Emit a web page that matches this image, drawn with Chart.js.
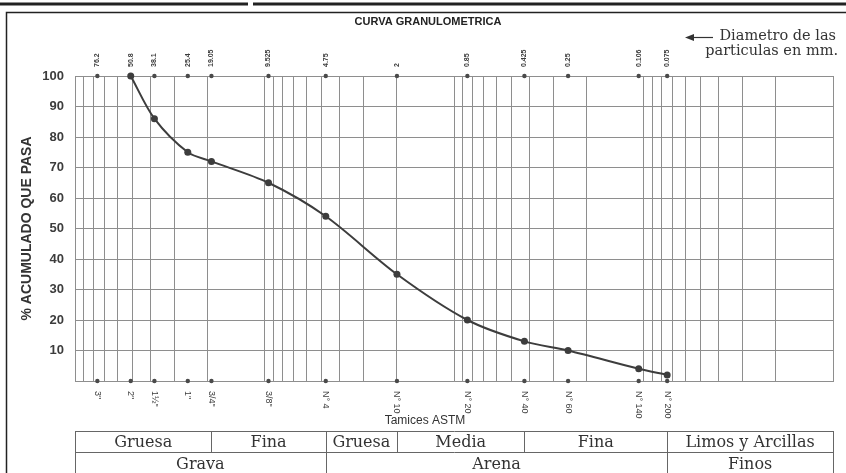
<!DOCTYPE html>
<html>
<head>
<meta charset="utf-8">
<script src="https://cdn.jsdelivr.net/npm/chart.js@4.4.1/dist/chart.umd.min.js"></script>
<style>
  html, body { margin: 0; padding: 0; background: #fff; }
  #wrap { width: 846px; height: 473px; position: relative; overflow: hidden; }
</style>
</head>
<body>
<div id="wrap"><canvas id="c" width="846" height="473"></canvas></div>
<script>
// Sieve openings (mm) with their ASTM designations
const sieveSizes = [76.2, 50.8, 38.1, 25.4, 19.05, 9.525, 4.75, 2, 0.85, 0.425, 0.25, 0.106, 0.075];
const sieveMmLabels = ['76.2', '50.8', '38.1', '25.4', '19.05', '9.525', '4.75', '2', '0.85', '0.425', '0.25', '0.106', '0.075'];
const sieveAstmLabels = ['3"', '2"', '1½"', '1"', '3/4"', '3/8"', 'N° 4', 'N° 10', 'N° 20', 'N° 40', 'N° 60', 'N° 140', 'N° 200'];

// Grading of the sample: cumulative percent passing each sieve
const curveSizes = [50.8, 38.1, 25.4, 19.05, 9.525, 4.75, 2, 0.85, 0.425, 0.25, 0.106, 0.075];
const percentPassing = [100, 86, 75, 72, 65, 54, 35, 20, 13, 10, 4, 2];

// Axis ranges
const diameterRange = [0.01, 100];
const percentRange = [0, 100];
const percentStep = 10;

// Soil classification bands (limits in mm)
const subgroupNames = ['Gruesa', 'Fina', 'Gruesa', 'Media', 'Fina', 'Limos y Arcillas'];
const subgroupLimits = [100, 19.05, 4.75, 2, 0.425, 0.075, 0.01];
const groupNames = ['Grava', 'Arena', 'Finos'];
const groupLimits = [100, 4.75, 0.075, 0.01];

// Log-paper grid: 1..9 x 10^k across the diameter range
const logGrid = [];
for (let e = Math.log10(diameterRange[0]); e < Math.log10(diameterRange[1]); e++) {
  for (let m = 1; m <= 9; m++) logGrid.push(+(m * Math.pow(10, e)).toPrecision(3));
}
logGrid.push(diameterRange[1]);

const INK = '#3c3c3c';
const GRID = '#8e8e8e';

const decorations = {
  id: 'decorations',
  afterDraw(chart) {
    const ctx = chart.ctx;
    const xs = chart.scales.x;
    const area = chart.chartArea;
    ctx.save();

    // Title
    ctx.fillStyle = '#222';
    ctx.font = 'bold 11px "Liberation Sans", Arial, sans-serif';
    ctx.textAlign = 'center';
    ctx.textBaseline = 'middle';
    ctx.fillText('CURVA GRANULOMETRICA', 428, 22);

    // Note on the diameter row
    ctx.font = '14.5px "DejaVu Serif", serif';
    ctx.textAlign = 'right';
    ctx.fillStyle = '#333';
    ctx.fillText('Diametro de las', 836, 36);
    ctx.fillText('particulas en mm.', 838, 51);
    ctx.strokeStyle = '#333';
    ctx.lineWidth = 1.2;
    ctx.beginPath();
    ctx.moveTo(692, 37.5);
    ctx.lineTo(713, 37.5);
    ctx.stroke();
    ctx.beginPath();
    ctx.moveTo(685, 37.5);
    ctx.lineTo(694, 34);
    ctx.lineTo(694, 41);
    ctx.closePath();
    ctx.fillStyle = '#333';
    ctx.fill();

    // Sieve openings above the grid
    ctx.fillStyle = INK;
    ctx.font = 'bold 7px "Liberation Sans", Arial, sans-serif';
    ctx.textAlign = 'left';
    ctx.textBaseline = 'middle';
    sieveSizes.forEach((s, i) => {
      const x = xs.getPixelForValue(s);
      ctx.save();
      ctx.translate(x, area.top - 9);
      ctx.rotate(-Math.PI / 2);
      ctx.fillText(sieveMmLabels[i], 0, 0);
      ctx.restore();
    });

    // ASTM designations below the grid
    ctx.font = '9px "Liberation Sans", Arial, sans-serif';
    sieveSizes.forEach((s, i) => {
      const x = xs.getPixelForValue(s);
      ctx.save();
      ctx.translate(x, area.bottom + 10);
      ctx.rotate(Math.PI / 2);
      ctx.fillText(sieveAstmLabels[i], 0, 0);
      ctx.restore();
    });

    ctx.fillStyle = '#333';
    ctx.font = '12px "Liberation Sans Narrow", "Liberation Sans", Arial, sans-serif';
    ctx.textAlign = 'center';
    ctx.fillText('Tamices ASTM', 425, 421);

    // Classification table
    const rowTop = 431, rowH = 21;
    ctx.strokeStyle = '#666';
    ctx.lineWidth = 1;
    const xL = Math.round(xs.getPixelForValue(subgroupLimits[0])) + 0.5;
    const xR = Math.round(xs.getPixelForValue(subgroupLimits[subgroupLimits.length - 1])) + 0.5;
    ctx.beginPath();
    [rowTop, rowTop + rowH, rowTop + 2 * rowH].forEach(y => {
      ctx.moveTo(xL, y + 0.5);
      ctx.lineTo(xR, y + 0.5);
    });
    subgroupLimits.forEach(v => {
      const x = Math.round(xs.getPixelForValue(v)) + 0.5;
      ctx.moveTo(x, rowTop);
      ctx.lineTo(x, rowTop + rowH);
    });
    groupLimits.forEach(v => {
      const x = Math.round(xs.getPixelForValue(v)) + 0.5;
      ctx.moveTo(x, rowTop + rowH);
      ctx.lineTo(x, rowTop + 2 * rowH);
    });
    ctx.stroke();

    ctx.fillStyle = '#333';
    ctx.font = '16px "DejaVu Serif", serif';
    ctx.textAlign = 'center';
    ctx.textBaseline = 'middle';
    subgroupNames.forEach((t, i) => {
      const a = xs.getPixelForValue(subgroupLimits[i]);
      const b = xs.getPixelForValue(subgroupLimits[i + 1]);
      ctx.fillText(t, (a + b) / 2, rowTop + rowH / 2 + 1);
    });
    groupNames.forEach((t, i) => {
      const a = xs.getPixelForValue(groupLimits[i]);
      const b = xs.getPixelForValue(groupLimits[i + 1]);
      ctx.fillText(t, (a + b) / 2, rowTop + rowH + rowH / 2 + 2);
    });

    // Sheet frame
    ctx.strokeStyle = '#222';
    ctx.lineWidth = 1.5;
    ctx.beginPath();
    ctx.moveTo(6.5, 473);
    ctx.lineTo(6.5, 12.5);
    ctx.lineTo(846, 12.5);
    ctx.stroke();
    ctx.lineWidth = 3;
    ctx.beginPath();
    ctx.moveTo(0, 4);
    ctx.lineTo(248, 4);
    ctx.moveTo(253, 4);
    ctx.lineTo(846, 4);
    ctx.stroke();

    ctx.restore();
  }
};

new Chart(document.getElementById('c'), {
  type: 'scatter',
  data: {
    datasets: [
      {
        label: 'Curva granulométrica',
        type: 'line',
        data: curveSizes.map((s, i) => ({ x: s, y: percentPassing[i] })),
        borderColor: '#3d3d3d',
        borderWidth: 2,
        pointRadius: 3.5,
        pointBackgroundColor: '#3d3d3d',
        pointBorderWidth: 0,
        tension: 0.3,
        fill: false,
        clip: false
      },
      {
        label: 'Aberturas',
        data: sieveSizes.map(s => ({ x: s, y: percentRange[1] })),
        pointRadius: 2.2,
        pointBackgroundColor: '#4a4a4a',
        pointBorderWidth: 0,
        clip: false
      },
      {
        label: 'Tamices',
        data: sieveSizes.map(s => ({ x: s, y: percentRange[0] })),
        pointRadius: 2.2,
        pointBackgroundColor: '#4a4a4a',
        pointBorderWidth: 0,
        clip: false
      }
    ]
  },
  options: {
    responsive: false,
    animation: false,
    devicePixelRatio: 1,
    layout: { padding: { top: 76, right: 13, bottom: 0, left: 0 } },
    plugins: { legend: { display: false }, tooltip: { enabled: false } },
    scales: {
      x: {
        type: 'logarithmic',
        reverse: true,
        min: diameterRange[0],
        max: diameterRange[1],
        afterBuildTicks: s => { s.ticks = logGrid.map(v => ({ value: v })); },
        afterFit: s => { s.height = 92; },
        ticks: { display: false },
        grid: { color: GRID, lineWidth: 1, drawTicks: false },
        border: { color: GRID }
      },
      y: {
        min: percentRange[0],
        max: percentRange[1],
        afterFit: s => { s.width = 75; },
        ticks: {
          stepSize: percentStep,
          callback: v => (v === 0 ? '' : v),
          font: { family: '"Liberation Sans", Arial, sans-serif', weight: 'bold', size: 13 },
          color: INK,
          padding: 11
        },
        grid: { color: GRID, lineWidth: 1, drawTicks: false },
        border: { color: GRID },
        title: {
          display: true,
          text: '% ACUMULADO QUE PASA',
          font: { family: '"Liberation Sans", Arial, sans-serif', weight: 'bold', size: 14 },
          color: '#333',
          padding: { top: 19 }
        }
      }
    }
  },
  plugins: [decorations]
});
</script>
</body>
</html>
